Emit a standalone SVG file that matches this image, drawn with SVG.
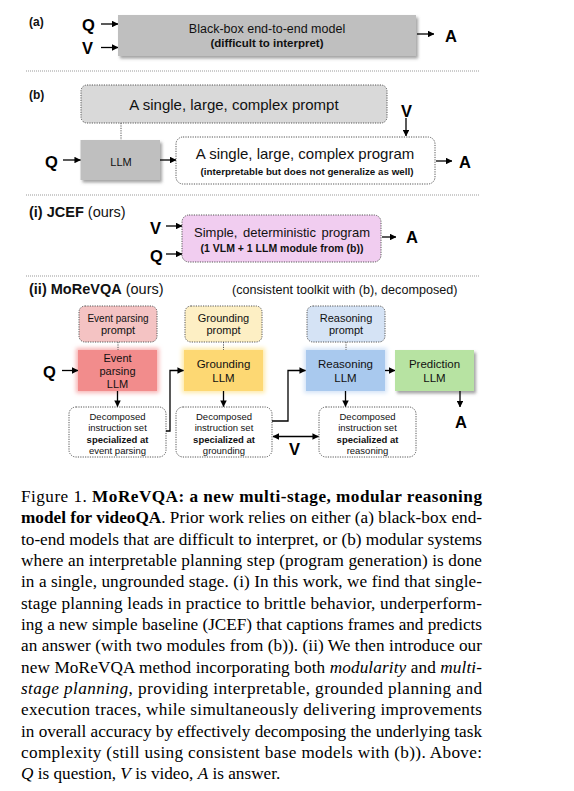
<svg xmlns="http://www.w3.org/2000/svg" width="574" height="791" viewBox="0 0 574 791">
<style>
  .sans{font-family:"Liberation Sans",Arial,sans-serif;fill:#111}
  .qva{font-family:"Liberation Sans",Arial,sans-serif;font-weight:bold;font-size:16.5px;fill:#000}
  .b{font-weight:bold}
  .mid{text-anchor:middle}
  .dot{fill:none;stroke:#555;stroke-width:1;stroke-dasharray:1.2 1.2}
  .sep{fill:none;stroke:#999;stroke-width:1;stroke-dasharray:1 1}
  .arr{fill:none;stroke:#000;stroke-width:1.3;marker-end:url(#ah)}
  .cap{font-family:"Liberation Serif","Times New Roman",serif;font-size:17.2px;fill:#000}
  .box{font-size:11.5px}
  .pr{font-size:11px}
  .dec{font-size:9.5px}
</style>
<defs>
  <marker id="ah" viewBox="0 0 8 8" refX="7.5" refY="4" markerWidth="6.5" markerHeight="6.5" orient="auto-start-reverse" markerUnits="userSpaceOnUse">
    <path d="M0,0 L8,4 L0,8 z" fill="#000"/>
  </marker>
  <filter id="sh" x="-10%" y="-10%" width="130%" height="140%">
    <feDropShadow dx="2" dy="2.5" stdDeviation="1.5" flood-color="#666" flood-opacity="0.6"/>
  </filter>
  <filter id="glowR" x="-15%" y="-20%" width="130%" height="140%">
    <feMorphology in="SourceAlpha" operator="dilate" radius="2" result="d"/>
    <feGaussianBlur in="d" stdDeviation="2" result="b"/>
    <feFlood flood-color="#f7b3b3"/>
    <feComposite in2="b" operator="in" result="g"/>
    <feMerge><feMergeNode in="g"/><feMergeNode in="SourceGraphic"/></feMerge>
  </filter>
  <filter id="glowY" x="-15%" y="-20%" width="130%" height="140%">
    <feMorphology in="SourceAlpha" operator="dilate" radius="2" result="d"/>
    <feGaussianBlur in="d" stdDeviation="2" result="b"/>
    <feFlood flood-color="#fdeaa8"/>
    <feComposite in2="b" operator="in" result="g"/>
    <feMerge><feMergeNode in="g"/><feMergeNode in="SourceGraphic"/></feMerge>
  </filter>
  <filter id="glowB" x="-15%" y="-20%" width="130%" height="140%">
    <feMorphology in="SourceAlpha" operator="dilate" radius="2" result="d"/>
    <feGaussianBlur in="d" stdDeviation="2" result="b"/>
    <feFlood flood-color="#d3e3f7"/>
    <feComposite in2="b" operator="in" result="g"/>
    <feMerge><feMergeNode in="g"/><feMergeNode in="SourceGraphic"/></feMerge>
  </filter>
</defs>
<rect width="574" height="791" fill="#fff"/>

<g id="separators">
  <line class="sep" x1="26" y1="71" x2="480" y2="71"/>
  <line class="sep" x1="26" y1="195" x2="480" y2="195"/>
  <line class="sep" x1="26" y1="276" x2="480" y2="276"/>
</g>

<g id="labels">
  <text class="sans b" x="29" y="26" font-size="12">(a)</text>
  <text class="sans b" x="29" y="99" font-size="12">(b)</text>
  <text class="sans" x="29" y="217" font-size="14.5"><tspan class="b">(i) JCEF</tspan> (ours)</text>
  <text class="sans" x="29" y="294" font-size="14.5"><tspan class="b">(ii) MoReVQA</tspan> (ours)</text>
  <text class="sans" x="232" y="294" font-size="12.6">(consistent toolkit with (b), decomposed)</text>
</g>

<g id="a-inputs">
  <text class="qva" x="82" y="31">Q</text>
  <text class="qva" x="82" y="54">V</text>
  <text class="qva" x="445" y="42">A</text>
</g>
<g id="a-blackbox">
  <rect x="118" y="15" width="298" height="41" fill="#bfbfbf" filter="url(#sh)"/>
  <text class="sans mid" x="267" y="33" font-size="12.5">Black-box end-to-end model</text>
  <text class="sans mid b" x="267" y="47" font-size="11.5">(difficult to interpret)</text>
</g>

<g id="b-prompt">
  <rect class="dot" x="81" y="85" width="306" height="38" rx="6" style="fill:#d9d9d9"/>
  <text class="sans mid" x="234" y="110" font-size="15">A single, large, complex prompt</text>
</g>
<g id="b-llm">
  <rect x="80.5" y="140" width="79.5" height="40" fill="#bfbfbf" filter="url(#sh)"/>
  <text class="sans mid" x="121" y="166" font-size="11">LLM</text>
</g>
<g id="b-program">
  <rect class="dot" x="176" y="137" width="259" height="47" rx="7" style="fill:#fff"/>
  <text class="sans mid" x="305" y="159" font-size="15">A single, large, complex program</text>
  <text class="sans mid b" x="307" y="175" font-size="9.8">(interpretable but does not generalize as well)</text>
</g>
<g id="b-io">
  <text class="qva" x="45" y="168">Q</text>
  <text class="qva" x="401" y="116.5">V</text>
  <text class="qva" x="459" y="168">A</text>
</g>

<g id="jcef-program">
  <rect class="dot" x="182" y="215" width="199" height="47" rx="7" style="fill:#f1cdf0"/>
  <text class="sans mid" x="282" y="237" font-size="13" word-spacing="2">Simple, deterministic program</text>
  <text class="sans mid b" x="282" y="252" font-size="10.5">(1 VLM + 1 LLM module from (b))</text>
</g>
<g id="jcef-io">
  <text class="qva" x="150" y="234">V</text>
  <text class="qva" x="150" y="262">Q</text>
  <text class="qva" x="406" y="243">A</text>
</g>

<g id="event-prompt">
  <rect class="dot" x="79" y="306" width="78" height="36" rx="6" style="fill:#f4c3c3"/>
  <text class="sans mid" x="118" y="321.5" font-size="10">Event parsing</text>
  <text class="sans mid pr" x="118" y="334">prompt</text>
</g>
<g id="event-llm">
  <rect x="78" y="350" width="79" height="41" fill="#f28c8c" filter="url(#glowR)"/>
  <text class="sans mid pr" x="117.5" y="362">Event</text>
  <text class="sans mid pr" x="117.5" y="375">parsing</text>
  <text class="sans mid pr" x="117.5" y="388">LLM</text>
</g>
<g id="event-instr">
  <rect class="dot" x="69" y="407" width="97" height="50" rx="7" style="fill:#fff"/>
  <text class="sans mid dec" x="117.5" y="420">Decomposed</text>
  <text class="sans mid dec" x="117.5" y="431">instruction set</text>
  <text class="sans mid dec b" x="117.5" y="442.5">specialized at</text>
  <text class="sans mid dec" x="117.5" y="453.5">event parsing</text>
</g>

<g id="grounding-prompt">
  <rect class="dot" x="185" y="306" width="77" height="36" rx="6" style="fill:#fdefc4"/>
  <text class="sans mid pr" x="223.5" y="321.5">Grounding</text>
  <text class="sans mid pr" x="223.5" y="334">prompt</text>
</g>
<g id="grounding-llm">
  <rect x="184" y="350" width="79" height="41" fill="#fdd873" filter="url(#glowY)"/>
  <text class="sans mid box" x="223.5" y="368">Grounding</text>
  <text class="sans mid box" x="223.5" y="382">LLM</text>
</g>
<g id="grounding-instr">
  <rect class="dot" x="176" y="407" width="96" height="50" rx="7" style="fill:#fff"/>
  <text class="sans mid dec" x="224" y="420">Decomposed</text>
  <text class="sans mid dec" x="224" y="431">instruction set</text>
  <text class="sans mid dec b" x="224" y="442.5">specialized at</text>
  <text class="sans mid dec" x="224" y="453.5">grounding</text>
</g>

<g id="reasoning-prompt">
  <rect class="dot" x="307" y="306" width="78" height="36" rx="6" style="fill:#d5e3f5"/>
  <text class="sans mid pr" x="346" y="321.5">Reasoning</text>
  <text class="sans mid pr" x="346" y="334">prompt</text>
</g>
<g id="reasoning-llm">
  <rect x="306" y="350" width="79" height="41" fill="#a9c9ee" filter="url(#glowB)"/>
  <text class="sans mid box" x="345.5" y="368">Reasoning</text>
  <text class="sans mid box" x="345.5" y="382">LLM</text>
</g>
<g id="reasoning-instr">
  <rect class="dot" x="319" y="407" width="97" height="50" rx="7" style="fill:#fff"/>
  <text class="sans mid dec" x="367.5" y="420">Decomposed</text>
  <text class="sans mid dec" x="367.5" y="431">instruction set</text>
  <text class="sans mid dec b" x="367.5" y="442.5">specialized at</text>
  <text class="sans mid dec" x="367.5" y="453.5">reasoning</text>
</g>

<g id="prediction-llm">
  <rect x="395" y="350" width="79" height="41" fill="#b7e3a2" filter="url(#sh)"/>
  <text class="sans mid box" x="434.5" y="368">Prediction</text>
  <text class="sans mid box" x="434.5" y="382">LLM</text>
</g>

<g id="ii-io">
  <text class="qva" x="43" y="377.5">Q</text>
  <text class="qva" x="289" y="455">V</text>
  <text class="qva" x="455" y="428">A</text>
</g>

<g id="connectors">
  <line class="arr" x1="101" y1="24" x2="118" y2="24"/>
  <line class="arr" x1="101" y1="47.5" x2="118" y2="47.5"/>
  <line class="arr" x1="417" y1="34" x2="434" y2="34"/>

  <line class="dot" x1="121" y1="123" x2="121" y2="140"/>
  <line class="arr" x1="406" y1="118" x2="406" y2="136"/>
  <line class="arr" x1="63" y1="160" x2="80.5" y2="160"/>
  <line class="arr" x1="160" y1="160" x2="176" y2="160"/>
  <line class="arr" x1="436" y1="161" x2="452" y2="161"/>

  <line class="arr" x1="166" y1="226" x2="182" y2="226"/>
  <line class="arr" x1="166" y1="254" x2="182" y2="254"/>
  <line class="arr" x1="382" y1="237" x2="396" y2="237"/>

  <line class="dot" x1="118" y1="342" x2="118" y2="350"/>
  <line class="dot" x1="223.5" y1="342" x2="223.5" y2="350"/>
  <line class="dot" x1="346" y1="342" x2="346" y2="350"/>

  <line class="arr" x1="62" y1="370.5" x2="78" y2="370.5"/>
  <line class="arr" x1="117.5" y1="391" x2="117.5" y2="406.5"/>
  <path class="arr" d="M166,431 H170 V370.5 H183.5"/>
  <line class="arr" x1="223.5" y1="391" x2="223.5" y2="406.5"/>
  <path class="arr" d="M272,421 H288 V370.5 H305.5"/>
  <line class="arr" x1="273" y1="436.5" x2="318.5" y2="436.5" style="marker-start:url(#ah)"/>
  <line class="arr" x1="385" y1="370.5" x2="395" y2="370.5"/>
  <line class="arr" x1="345.5" y1="391" x2="345.5" y2="406.5"/>
  <line class="arr" x1="460" y1="391" x2="460" y2="407"/>
</g>

<g id="caption">
  <text class="cap" x="21" y="502" textLength="461" lengthAdjust="spacing">Figure 1.  <tspan font-weight="bold">MoReVQA: a new multi-stage, modular reasoning</tspan></text>
  <text class="cap" x="21" y="523.3" textLength="461" lengthAdjust="spacing"><tspan font-weight="bold">model for videoQA</tspan>. Prior work relies on either (a) black-box end-</text>
  <text class="cap" x="21" y="544.7" textLength="461" lengthAdjust="spacing">to-end models that are difficult to interpret, or (b) modular systems</text>
  <text class="cap" x="21" y="566" textLength="461" lengthAdjust="spacing">where an interpretable planning step (program generation) is done</text>
  <text class="cap" x="21" y="587.3" textLength="461" lengthAdjust="spacing">in a single, ungrounded stage. (i) In this work, we find that single-</text>
  <text class="cap" x="21" y="608.7" textLength="461" lengthAdjust="spacing">stage planning leads in practice to brittle behavior, underperform-</text>
  <text class="cap" x="21" y="630" textLength="461" lengthAdjust="spacing">ing a new simple baseline (JCEF) that captions frames and predicts</text>
  <text class="cap" x="21" y="651.3" textLength="461" lengthAdjust="spacing">an answer (with two modules from (b)). (ii) We then introduce our</text>
  <text class="cap" x="21" y="672.7" textLength="461" lengthAdjust="spacing">new MoReVQA method incorporating both <tspan font-style="italic">modularity</tspan> and <tspan font-style="italic">multi-</tspan></text>
  <text class="cap" x="21" y="694" textLength="461" lengthAdjust="spacing"><tspan font-style="italic">stage planning</tspan>, providing interpretable, grounded planning and</text>
  <text class="cap" x="21" y="715.3" textLength="461" lengthAdjust="spacing">execution traces, while simultaneously delivering improvements</text>
  <text class="cap" x="21" y="736.7" textLength="461" lengthAdjust="spacing">in overall accuracy by effectively decomposing the underlying task</text>
  <text class="cap" x="21" y="758" textLength="461" lengthAdjust="spacing">complexity (still using consistent base models with (b)).  Above:</text>
  <text class="cap" x="21" y="779.3"><tspan font-style="italic">Q</tspan> is question, <tspan font-style="italic">V</tspan> is video, <tspan font-style="italic">A</tspan> is answer.</text>
</g>
</svg>
